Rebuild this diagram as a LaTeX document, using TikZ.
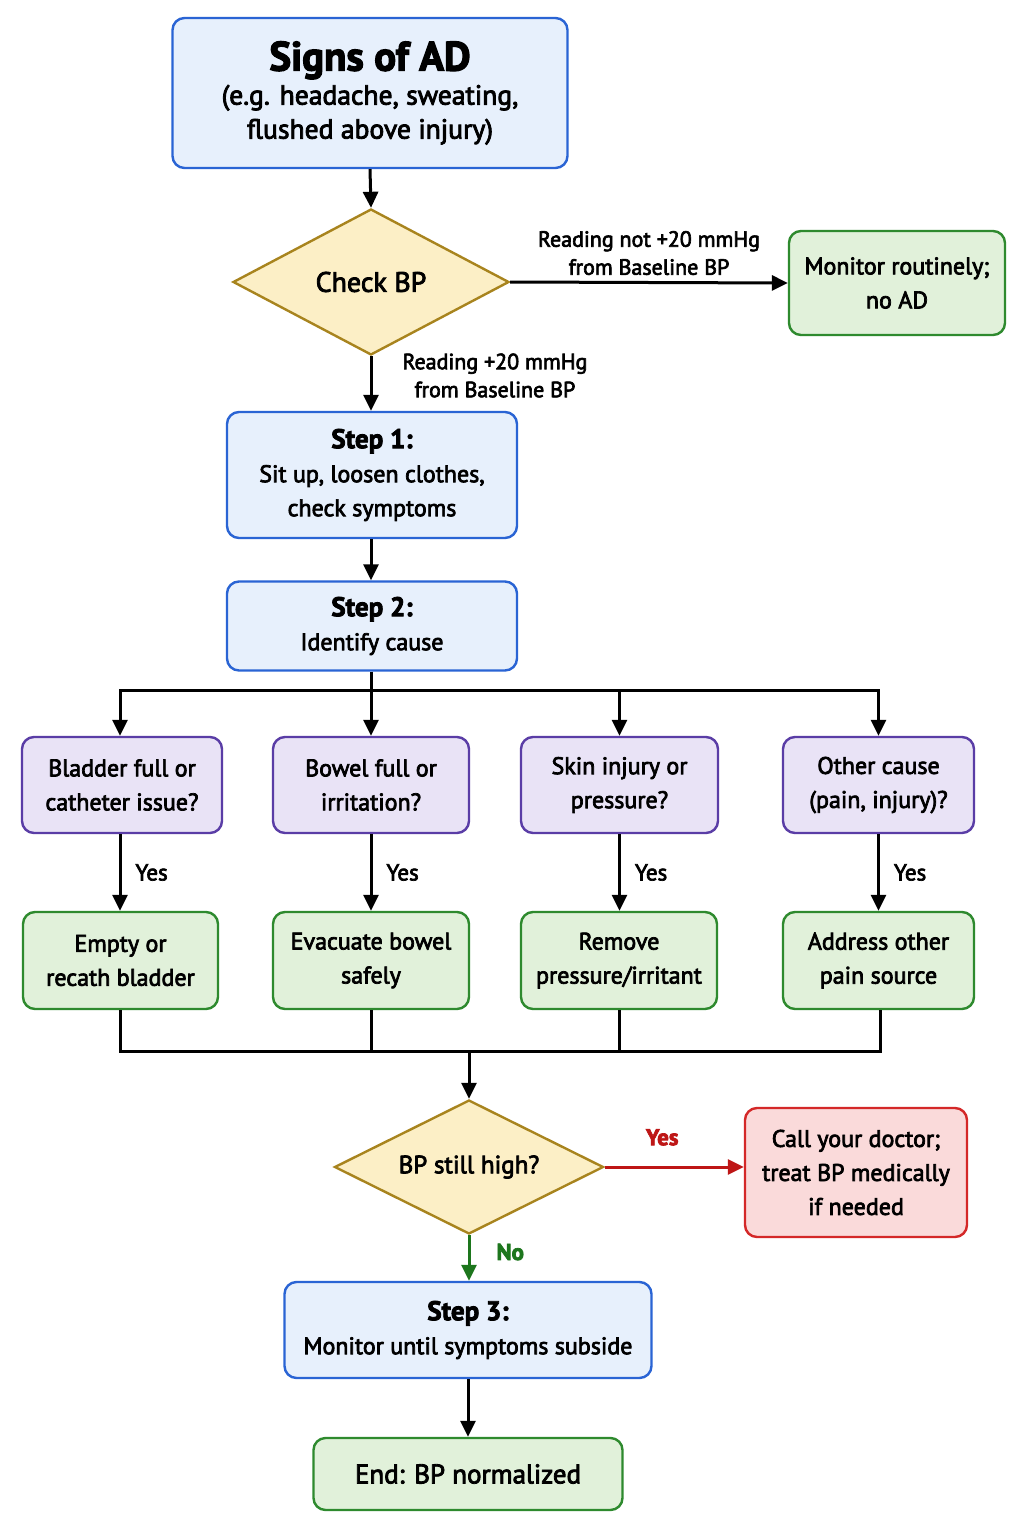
\documentclass[tikz,border=0pt]{standalone}
\usepackage{fontspec}
\setmainfont{PT Sans}[RawFeature={embolden=3}]
\usetikzlibrary{shapes.geometric,arrows.meta,positioning}
\definecolor{bluefill}{HTML}{E7F0FC}
\definecolor{blueline}{HTML}{2A64D4}
\definecolor{yelfill}{HTML}{FCEFC6}
\definecolor{yelline}{HTML}{A8841E}
\definecolor{grnfill}{HTML}{E1F1DA}
\definecolor{grnline}{HTML}{2E8A2E}
\definecolor{purfill}{HTML}{E9E3F6}
\definecolor{purline}{HTML}{5A3DA6}
\definecolor{redfill}{HTML}{FADADA}
\definecolor{redline}{HTML}{D42828}
\definecolor{redarrow}{HTML}{BE1616}
\definecolor{grnarrow}{HTML}{1D761D}
\tikzset{
  box/.style={rectangle, rounded corners=6pt, line width=1.2pt, align=center, inner sep=2pt,
    font=\fontsize{12}{17}\selectfont},
  bluebox/.style={box, draw=blueline, fill=bluefill},
  grnbox/.style={box, draw=grnline, fill=grnfill},
  purbox/.style={box, draw=purline, fill=purfill},
  redbox/.style={box, draw=redline, fill=redfill},
  decis/.style={diamond, aspect=1.9, inner sep=0pt, line width=1.2pt, draw=yelline, fill=yelfill,
    align=center, font=\fontsize{14}{16}\selectfont},
  conn/.style={line width=1.5pt, draw=black},
  arr/.style={conn, -{Triangle[length=8pt,width=7.5pt]}},
  lbl/.style={align=center, font=\fontsize{11}{14}\selectfont, inner sep=2pt},
}
\begin{document}
\begin{tikzpicture}[x=0.5pt,y=-0.5pt]
\path[use as bounding box, fill=white] (0,0) rectangle (1024,1536);

% main column
\node[bluebox, minimum width=197.5pt, minimum height=75pt] (title) at (370,93)
  {{\fontsize{20.5}{22}\selectfont\bfseries Signs of AD}\\[0pt]
   {\fontsize{13.8}{18.5}\selectfont (e.g. headache, sweating,}\\
   {\fontsize{13.8}{18.5}\selectfont flushed above injury)}};
\node[decis, minimum width=138pt, minimum height=73pt] (check) at (371,282) {Check BP};
\node[grnbox, minimum width=108pt, minimum height=52pt] (monitor) at (897,283)
  {Monitor routinely;\\no AD};
\node[bluebox, minimum width=145pt, minimum height=63pt] (step1) at (372,475)
  {{\fontsize{13.5}{17}\selectfont\bfseries Step 1:}\\Sit up, loosen clothes,\\check symptoms};
\node[bluebox, minimum width=145pt, minimum height=44.5pt] (step2) at (372,626)
  {{\fontsize{13.5}{17}\selectfont\bfseries Step 2:}\\Identify cause};

% causes
\node[purbox, minimum width=100pt, minimum height=48pt] (bladder) at (122,785)
  {Bladder full or\\catheter issue?};
\node[purbox, minimum width=98pt, minimum height=48pt] (bowel) at (371,785)
  {Bowel full or\\irritation?};
\node[purbox, minimum width=98.5pt, minimum height=48pt] (skin) at (619.5,785)
  {Skin injury or\\pressure?};
\node[purbox, minimum width=95.5pt, minimum height=48pt] (other) at (878.5,785)
  {Other cause\\(pain, injury)?};

% actions
\node[grnbox, minimum width=97.5pt, minimum height=48.5pt] (empty) at (120.5,960.5)
  {Empty or\\recath bladder};
\node[grnbox, minimum width=98pt, minimum height=48.5pt] (evac) at (371,960.5)
  {Evacuate bowel\\safely};
\node[grnbox, minimum width=98pt, minimum height=48.5pt] (remove) at (619,960.5)
  {Remove\\pressure/irritant};
\node[grnbox, minimum width=95.5pt, minimum height=48.5pt] (address) at (878.5,960.5)
  {Address other\\pain source};

% bottom
\node[decis, minimum width=134.5pt, minimum height=67pt, font=\fontsize{12.5}{16}\selectfont] (still) at (469,1167) {BP still high?};
\node[redbox, minimum width=111pt, minimum height=64.5pt] (doctor) at (856,1172.5)
  {Call your doctor;\\treat BP medically\\if needed};
\node[bluebox, minimum width=183.5pt, minimum height=48pt] (step3) at (468,1330)
  {{\fontsize{13.5}{17}\selectfont\bfseries Step 3:}\\Monitor until symptoms subside};
\node[grnbox, minimum width=154.5pt, minimum height=36pt, font=\fontsize{13.5}{17}\selectfont] (endn) at (468,1474)
  {End: BP normalized};

% connectors
\draw[arr] (title.south) -- (check.north);
\draw[arr] (check.east) -- node[lbl, above=1pt] {Reading not +20 mmHg\\from Baseline BP} (monitor.west);
\draw[arr] (check.south) -- node[lbl, right=13pt, yshift=4pt] {Reading +20 mmHg\\from Baseline BP} (check.south |- step1.north);
\draw[arr] (step1.south -| check.south) -- (step2.north -| check.south);

\coordinate (bj) at (371,690);
\draw[conn] (step2.south -| bj) -- (bj);
\draw[arr] (bj) -| ([xshift=-1pt]bladder.north);
\draw[arr] (bj) -- (bowel.north);
\draw[arr] (bj) -| (skin.north);
\draw[arr] (bj) -| (other.north);

\draw[arr] ([xshift=-1pt]bladder.south) -- node[lbl, right=5pt, font=\fontsize{11.5}{14}\selectfont] {Yes} ([xshift=-1pt]bladder.south |- empty.north);
\draw[arr] (bowel.south) -- node[lbl, right=5pt, font=\fontsize{11.5}{14}\selectfont] {Yes} (evac.north);
\draw[arr] (skin.south) -- node[lbl, right=5pt, font=\fontsize{11.5}{14}\selectfont] {Yes} (skin.south |- remove.north);
\draw[arr] (other.south) -- node[lbl, right=5pt, font=\fontsize{11.5}{14}\selectfont] {Yes} (other.south |- address.north);

\coordinate (mj) at (469,1051);
\draw[conn] (empty.south) |- (mj);
\draw[conn] (evac.south) -- (evac.south |- mj);
\draw[conn] (remove.south) -- (remove.south |- mj);
\draw[conn] ([xshift=1pt]address.south) |- (mj);
\draw[arr] (mj) -- (still.north);

\draw[arr, draw=redarrow, fill=redarrow] (still.east) -- node[lbl, above=8pt, xshift=-6pt, text=redarrow, font=\fontsize{11.5}{14}\selectfont\bfseries] {Yes} (doctor.west |- still.east);
\draw[arr, draw=grnarrow, fill=grnarrow] (still.south) -- node[lbl, right=11pt, yshift=3pt, text=grnarrow, font=\fontsize{11.5}{14}\selectfont\bfseries] {No} (step3.north -| still.south);
\draw[arr] (step3.south) -- (endn.north);
\end{tikzpicture}
\end{document}
